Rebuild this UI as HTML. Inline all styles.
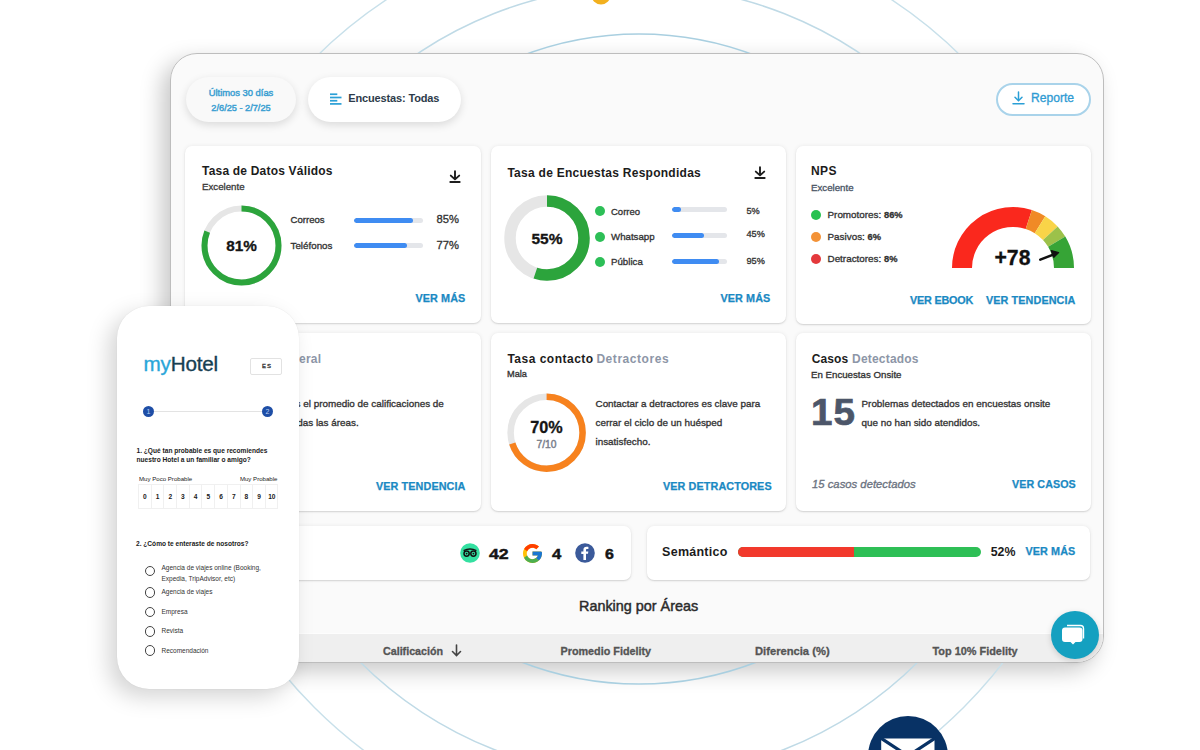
<!DOCTYPE html>
<html><head><meta charset="utf-8">
<style>
html,body{margin:0;padding:0;}
body{width:1200px;height:750px;overflow:hidden;background:#fff;position:relative;font-family:"Liberation Sans",sans-serif;color:#222;}
.a{position:absolute;}
.t{position:absolute;line-height:1;white-space:nowrap;-webkit-text-stroke:0.32px currentColor;}
.t.m{-webkit-text-stroke:0.45px currentColor;}
.panelsh{left:170px;top:53px;width:934px;height:610px;border-radius:27px;box-shadow:-8px 8px 22px rgba(0,0,0,0.22);}
.panel{left:170px;top:53px;width:934px;height:610px;box-sizing:border-box;border:1px solid #bdbdbd;border-radius:27px;background:#fafafa;}
.clip{left:171px;top:54px;width:932px;height:608px;border-radius:26px;overflow:hidden;}
.card{position:absolute;background:#fff;border-radius:7px;box-shadow:0 1px 1.5px rgba(0,0,0,0.13), 0 0 4px rgba(0,0,0,0.07);}
.t.link{color:#1a89c3;font-weight:700;letter-spacing:0.1px;-webkit-text-stroke:0.25px currentColor;}
.bar{position:absolute;height:5px;border-radius:3px;background:#e4e6ea;overflow:hidden;}
.bar i{position:absolute;left:0;top:0;bottom:0;background:#3f8cf2;border-radius:3px;}
</style></head><body>

<div class="a panelsh"></div>
<!-- background circles -->
<svg class="a" style="left:0;top:0" width="1200" height="750">
  <circle cx="639" cy="383" r="459" fill="none" stroke="#c8e0ea" stroke-width="1.4"/>
  <circle cx="639" cy="381.5" r="395.5" fill="none" stroke="#bfdae6" stroke-width="1.5"/>
  <circle cx="639" cy="359" r="325" fill="none" stroke="#a9cfe0" stroke-width="1.6"/>
  <circle cx="601" cy="-5" r="9.5" fill="#f2b01e"/>
</svg>

<div class="a panel"></div>
<div class="a clip">
  <div class="a" style="left:0;top:579px;width:932px;height:29px;background:#efefef;border-top:1px solid #fdfdfd"></div>
</div>


<!-- header pills -->
<div class="a" style="left:186px;top:77px;width:110px;height:45px;border-radius:23px;background:#f9f9f9;box-shadow:0 3px 8px rgba(0,0,0,0.13)"></div>
<div class="t m" style="left:186px;width:110px;text-align:center;top:88px;font-size:9.4px;color:#3b9fd2">Últimos 30 días</div>
<div class="t m" style="left:186px;width:110px;text-align:center;top:103.5px;font-size:9.2px;color:#3b9fd2">2/6/25 - 2/7/25</div>

<div class="a" style="left:308px;top:77px;width:153px;height:45px;border-radius:23px;background:#fff;box-shadow:0 3px 8px rgba(0,0,0,0.13)"></div>
<svg class="a" style="left:330px;top:93px" width="13" height="12" viewBox="0 0 13 12"><g fill="#2a9fd6"><rect x="0" y="0.4" width="7.3" height="1.7"/><rect x="0" y="3.65" width="11.5" height="1.7"/><rect x="0" y="6.9" width="7.3" height="1.7"/><rect x="0" y="10.05" width="11.5" height="1.7"/></g></svg>
<div style="position:absolute;line-height:1;white-space:nowrap;font-weight:700;left:348.3px;top:93.4px;font-size:11px;letter-spacing:-0.15px;color:#2d3b4a">Encuestas: Todas</div>

<div class="a" style="left:996px;top:83px;width:95px;height:33px;box-sizing:border-box;border-radius:17px;border:2px solid #a9d3ea;background:#fff"></div>
<svg class="a" style="left:1012px;top:91px" width="13" height="14" viewBox="0 0 13 14"><g fill="none" stroke="#2a9fd6" stroke-width="1.5" stroke-linecap="round"><path d="M6.5 1v8.5M3 6.2l3.5 3.5 3.5-3.5M1 12.8h11"/></g></svg>
<div class="t" style="left:1031px;top:91.5px;font-size:12.1px;color:#2f9bd3">Reporte</div>

<!-- row 1 cards -->
<div class="card" style="left:185px;top:145.5px;width:296px;height:177px"></div>
<div class="card" style="left:490.5px;top:145.5px;width:295.5px;height:177px"></div>
<div class="card" style="left:795.5px;top:145.5px;width:295.3px;height:178px"></div>

<!-- card 1 -->
<div style="position:absolute;line-height:1;white-space:nowrap;font-size:12px;font-weight:700;-webkit-text-stroke:0;left:202px;top:164.7px;letter-spacing:0.2px;color:#1c1c1c">Tasa de Datos Válidos</div>
<div class="t" style="left:202px;top:182px;font-size:9.7px;color:#3a3a3a">Excelente</div>
<svg class="a" style="left:448.3px;top:170px" width="14" height="14" viewBox="0 0 14 14"><g fill="none" stroke="#1e1e1e" stroke-width="1.9" stroke-linecap="round" stroke-linejoin="round"><path d="M7 1.2V9.2M2.8 5.6L7 9.4 11.2 5.6M2.3 12H11.7"/></g></svg>
<svg class="a" style="left:201px;top:205px" width="81" height="81" viewBox="0 0 81 81">
  <circle cx="40.5" cy="40.5" r="37" fill="none" stroke="#e6e6e6" stroke-width="6"/>
  <circle cx="40.5" cy="40.5" r="37" fill="none" stroke="#2ca43c" stroke-width="6" stroke-dasharray="188.3 232.5" transform="rotate(-90 40.5 40.5)"/>
</svg>
<div class="t" style="left:201px;width:81px;text-align:center;top:237.5px;font-size:15.3px;font-weight:700;color:#151515">81%</div>
<div class="t" style="left:290.5px;top:215px;font-size:9.6px;color:#333">Correos</div>
<div class="t" style="left:290.5px;top:240.5px;font-size:9.8px;color:#333">Teléfonos</div>
<div class="bar" style="left:353.5px;top:217.5px;width:69px"><i style="width:59px"></i></div>
<div class="bar" style="left:353.5px;top:242.5px;width:69px"><i style="width:53px"></i></div>
<div class="t" style="left:400px;width:59px;text-align:right;top:214px;font-size:11.2px;color:#333">85%</div>
<div class="t" style="left:400px;width:59px;text-align:right;top:239.5px;font-size:11.2px;color:#333">77%</div>
<div class="t link" style="left:415.5px;top:292.5px;font-size:10.8px">VER MÁS</div>

<!-- card 2 -->
<div style="position:absolute;line-height:1;white-space:nowrap;font-size:12px;font-weight:700;-webkit-text-stroke:0;left:507.4px;top:167.3px;letter-spacing:0.27px;color:#1c1c1c">Tasa de Encuestas Respondidas</div>
<svg class="a" style="left:753.2px;top:166px" width="14" height="14" viewBox="0 0 14 14"><g fill="none" stroke="#1e1e1e" stroke-width="1.9" stroke-linecap="round" stroke-linejoin="round"><path d="M7 1.2V9.2M2.8 5.6L7 9.4 11.2 5.6M2.3 12H11.7"/></g></svg>
<svg class="a" style="left:504px;top:195px" width="86" height="86" viewBox="0 0 86 86">
  <circle cx="43" cy="43" r="37" fill="none" stroke="#e6e6e6" stroke-width="11.5"/>
  <circle cx="43" cy="43" r="37" fill="none" stroke="#2ca43c" stroke-width="11.5" stroke-dasharray="127.9 232.5" transform="rotate(-90 43 43)"/>
</svg>
<div class="t" style="left:504px;width:86px;text-align:center;top:230.5px;font-size:15.5px;font-weight:700;color:#151515">55%</div>
<div class="a" style="left:595px;top:206px;width:10px;height:10px;border-radius:50%;background:#2dbf57"></div>
<div class="a" style="left:595px;top:232px;width:10px;height:10px;border-radius:50%;background:#2dbf57"></div>
<div class="a" style="left:595px;top:257px;width:10px;height:10px;border-radius:50%;background:#2dbf57"></div>
<div class="t" style="left:611px;top:206.5px;font-size:9.5px;color:#333">Correo</div>
<div class="t" style="left:611px;top:232px;font-size:9.7px;color:#333">Whatsapp</div>
<div class="t" style="left:611px;top:257px;font-size:9.7px;color:#333">Pública</div>
<div class="bar" style="left:672px;top:207.3px;width:55px"><i style="width:9px"></i></div>
<div class="bar" style="left:672px;top:233.2px;width:55px"><i style="width:32px"></i></div>
<div class="bar" style="left:672px;top:259px;width:55px"><i style="width:47px"></i></div>
<div class="t" style="left:746.5px;top:206.5px;font-size:9.2px;color:#333">5%</div>
<div class="t" style="left:746.5px;top:230px;font-size:9.2px;color:#333">45%</div>
<div class="t" style="left:746.5px;top:257px;font-size:9.2px;color:#333">95%</div>
<div class="t link" style="left:720.5px;top:292.5px;font-size:10.8px">VER MÁS</div>

<!-- card 3 NPS -->
<div style="position:absolute;line-height:1;white-space:nowrap;font-size:12px;font-weight:700;-webkit-text-stroke:0;left:811px;top:165.2px;letter-spacing:0.4px;color:#1c1c1c">NPS</div>
<div class="t" style="left:811px;top:183px;font-size:9.7px;color:#4a5566">Excelente</div>
<div class="a" style="left:811px;top:210px;width:10px;height:10px;border-radius:50%;background:#27c150"></div>
<div class="a" style="left:811px;top:232px;width:10px;height:10px;border-radius:50%;background:#f39237"></div>
<div class="a" style="left:811px;top:254px;width:10px;height:10px;border-radius:50%;background:#e4393c"></div>
<div class="t" style="left:827.5px;top:210px;font-size:9.9px;color:#333">Promotores: <b style="font-size:9.3px">86%</b></div>
<div class="t" style="left:827.5px;top:232px;font-size:9.9px;color:#333">Pasivos: <b style="font-size:9.3px">6%</b></div>
<div class="t" style="left:827.5px;top:254px;font-size:9.9px;color:#333">Detractores: <b style="font-size:9.3px">8%</b></div>
<svg class="a" style="left:951px;top:206px" width="125" height="63" viewBox="0 0 125 63">
  <g transform="translate(62,62)" fill="none" stroke-width="20">
    <path d="M-51 0 A51 51 0 0 1 15.8 -48.5" stroke="#fa281d"/>
    <path d="M15.8 -48.5 A51 51 0 0 1 27 -43.3" stroke="#f08a26"/>
    <path d="M27 -43.3 A51 51 0 0 1 37.3 -34.8" stroke="#f9d448"/>
    <path d="M37.3 -34.8 A51 51 0 0 1 43.7 -26.3" stroke="#9cc14a"/>
    <path d="M43.7 -26.3 A51 51 0 0 1 51 0" stroke="#36a436"/>
  </g>
</svg>
<div class="t" style="left:994.5px;top:246.5px;font-size:21.2px;font-weight:700;color:#111">+78</div>
<svg class="a" style="left:1030px;top:240px" width="40" height="30" viewBox="1030 240 40 30"><path d="M1040.3 259.6L1054 254.4" stroke="#111" stroke-width="2.6" stroke-linecap="round"/><path d="M1058.6 252.5L1051.2 250.6 1053.8 257.4z" fill="#111" stroke="#111" stroke-width="1.2" stroke-linejoin="round"/></svg>
<div class="t link" style="left:910px;top:294.5px;font-size:10.8px;letter-spacing:-0.2px">VER EBOOK</div>
<div class="t link" style="left:986px;top:294.5px;font-size:10.8px">VER TENDENCIA</div>


<!-- row 2 cards -->
<div class="card" style="left:185px;top:333px;width:295.5px;height:178px"></div>
<div class="card" style="left:491px;top:333px;width:294.5px;height:178px"></div>
<div class="card" style="left:795.5px;top:333px;width:295px;height:178px"></div>

<!-- card 4 (mostly hidden) -->
<div style="position:absolute;line-height:1;white-space:nowrap;font-size:12px;font-weight:700;-webkit-text-stroke:0;left:202px;top:352.8px;letter-spacing:0.19px;color:#1c1c1c">Calificación <span style="color:#8d96a7">General</span></div>
<div class="t" style="left:202px;top:370px;font-size:9.7px;color:#333">Excelente</div>
<div class="t" style="left:289px;top:398.5px;font-size:9.9px;color:#333">Es el promedio de calificaciones de</div>
<div class="t" style="left:289px;top:418px;font-size:9.9px;color:#333">todas las áreas.</div>
<div class="t link" style="left:376px;top:481px;font-size:10.8px">VER TENDENCIA</div>

<!-- card 5 -->
<div style="position:absolute;line-height:1;white-space:nowrap;font-size:12px;font-weight:700;-webkit-text-stroke:0;left:507.4px;top:353.2px;letter-spacing:0.5px;color:#1c1c1c">Tasa contacto</div><div style="position:absolute;line-height:1;white-space:nowrap;font-size:12px;font-weight:700;-webkit-text-stroke:0;left:596.4px;top:353.2px;letter-spacing:0.55px;color:#8d96a7">Detractores</div>
<div class="t" style="left:507px;top:370px;font-size:9.2px;color:#333">Mala</div>
<svg class="a" style="left:506px;top:392px" width="81" height="81" viewBox="0 0 81 81">
  <circle cx="40.6" cy="40.7" r="36" fill="none" stroke="#e6e6e6" stroke-width="6.5"/>
  <circle cx="40.6" cy="40.7" r="36" fill="none" stroke="#f7821e" stroke-width="6.5" stroke-dasharray="158.3 226.2" transform="rotate(-90 40.6 40.7)"/>
</svg>
<div class="t" style="left:506px;width:81px;text-align:center;top:419px;font-size:16.2px;font-weight:700;color:#151515">70%</div>
<div class="t" style="left:506px;width:81px;text-align:center;top:439.5px;font-size:10.3px;color:#7b818d;-webkit-text-stroke:0.45px currentColor">7/10</div>
<div class="t" style="left:595.5px;top:398.5px;font-size:9.9px;color:#333">Contactar a detractores es clave para</div>
<div class="t" style="left:595.5px;top:418px;font-size:9.9px;color:#333">cerrar el ciclo de un huésped</div>
<div class="t" style="left:595.5px;top:437px;font-size:9.9px;color:#333">insatisfecho.</div>
<div class="t link" style="left:663px;top:481px;font-size:10.8px">VER DETRACTORES</div>

<!-- card 6 -->
<div style="position:absolute;line-height:1;white-space:nowrap;font-size:12px;font-weight:700;-webkit-text-stroke:0;left:811.7px;top:352.7px;letter-spacing:0.1px;color:#1c1c1c">Casos</div><div style="position:absolute;line-height:1;white-space:nowrap;font-size:12px;font-weight:700;-webkit-text-stroke:0;left:852.1px;top:352.7px;letter-spacing:0.19px;color:#8d96a7">Detectados</div>
<div class="t" style="left:811px;top:370px;font-size:9.7px;color:#333">En Encuestas Onsite</div>
<div class="t" style="left:810.5px;top:395px;font-size:36px;font-weight:700;color:#4c5669;letter-spacing:1px;transform:scaleX(1.07);transform-origin:0 0;-webkit-text-stroke:0.7px #4c5669">15</div>
<div class="t" style="left:861.5px;top:398.5px;font-size:9.9px;color:#333">Problemas detectados en encuestas onsite</div>
<div class="t" style="left:861.5px;top:418px;font-size:9.9px;color:#333">que no han sido atendidos.</div>
<div class="t" style="left:812px;top:478.5px;font-size:11.3px;font-style:italic;color:#6b7280">15 casos detectados</div>
<div class="t link" style="left:1012px;top:479px;font-size:10.7px">VER CASOS</div>

<!-- row 3 -->
<div class="card" style="left:185px;top:526px;width:445.8px;height:54px"></div>
<div class="card" style="left:646.8px;top:526px;width:443.6px;height:54px"></div>
<svg class="a" style="left:460px;top:543px" width="20" height="20" viewBox="0 0 20 20">
  <circle cx="10" cy="10" r="9.8" fill="#34e0a1"/>
  <g fill="none" stroke="#111" stroke-width="1.5"><circle cx="6.6" cy="10.6" r="2.6"/><circle cx="13.4" cy="10.6" r="2.6"/><path d="M3.6 7.6 Q10 4.6 16.4 7.6"/></g>
  <circle cx="6.6" cy="10.6" r="0.9" fill="#111"/><circle cx="13.4" cy="10.6" r="0.9" fill="#111"/>
</svg>
<div class="t" style="left:489.2px;top:546.5px;font-size:14.5px;font-weight:700;color:#151515;transform:scaleX(1.22);transform-origin:0 0;-webkit-text-stroke:0.45px #151515">42</div>
<svg class="a" style="left:523.3px;top:543.8px" width="19" height="19" viewBox="4 4 40 40">
  <path fill="#FFC107" d="M43.6 20.1H42V20H24v8h11.3C33.7 32.7 29.2 36 24 36c-6.6 0-12-5.4-12-12s5.4-12 12-12c3.1 0 5.8 1.2 7.9 3.1l5.7-5.7C34 6.1 29.3 4 24 4 13 4 4 13 4 24s9 20 20 20 20-9 20-20c0-1.3-.1-2.6-.4-3.9z"/>
  <path fill="#FF3D00" d="M6.3 14.7l6.6 4.8C14.7 15.1 19 12 24 12c3.1 0 5.8 1.2 7.9 3.1l5.7-5.7C34 6.1 29.3 4 24 4 16.3 4 9.7 8.3 6.3 14.7z"/>
  <path fill="#4CAF50" d="M24 44c5.2 0 9.9-2 13.4-5.2l-6.2-5.2C29.2 35.1 26.7 36 24 36c-5.2 0-9.6-3.3-11.3-8l-6.5 5C9.5 39.6 16.2 44 24 44z"/>
  <path fill="#1976D2" d="M43.6 20.1H42V20H24v8h11.3c-.8 2.2-2.2 4.2-4.1 5.6l6.2 5.2C37 39.2 44 34 44 24c0-1.3-.1-2.6-.4-3.9z"/>
</svg>
<div class="t" style="left:552.2px;top:546.5px;font-size:14.5px;font-weight:700;color:#151515;transform:scaleX(1.15);transform-origin:0 0;-webkit-text-stroke:0.45px #151515">4</div>
<svg class="a" style="left:575px;top:543px" width="20" height="20" viewBox="0 0 20 20">
  <circle cx="10" cy="10" r="9.8" fill="#3b5a9a"/>
  <path d="M11 17V10.8h2l.3-2.3H11V7.1c0-.7.2-1.1 1.1-1.1h1.3V3.9c-.2 0-1-.1-1.9-.1-1.9 0-3.1 1.1-3.1 3.2v1.6H6.3v2.3h2.1V17z" fill="#fff"/>
</svg>
<div class="t" style="left:604.5px;top:546.5px;font-size:14.5px;font-weight:700;color:#151515;transform:scaleX(1.1);transform-origin:0 0;-webkit-text-stroke:0.45px #151515">6</div>

<div style="position:absolute;line-height:1;white-space:nowrap;font-weight:700;-webkit-text-stroke:0;left:662.1px;top:545.5px;font-size:12.5px;letter-spacing:0.25px;color:#1c1c1c">Semántico</div>
<div class="a" style="left:737.5px;top:547px;width:243px;height:10px;border-radius:5px;overflow:hidden;background:#2ebf56"><div class="a" style="left:0;top:0;width:116.5px;height:10px;background:#f2392c"></div></div>
<div style="position:absolute;line-height:1;white-space:nowrap;font-weight:700;-webkit-text-stroke:0;left:990.7px;top:545.7px;font-size:12.4px;color:#1c1c1c">52%</div>
<div class="t link" style="left:1025.5px;top:546.1px;font-size:10.8px">VER MÁS</div>

<!-- ranking -->
<div class="t m" style="left:579px;top:599px;font-size:14.4px;color:#2b2b2b">Ranking por Áreas</div>
<div class="t" style="left:383px;top:645.5px;font-size:10.7px;font-weight:700;color:#555">Calificación</div>
<svg class="a" style="left:451px;top:644px" width="11" height="13" viewBox="0 0 11 13"><path d="M5.5 1v10.5M1.5 7.5l4 4 4-4" fill="none" stroke="#444" stroke-width="1.6" stroke-linecap="round"/></svg>
<div class="t" style="left:560.5px;top:645.5px;font-size:10.8px;font-weight:700;color:#555">Promedio Fidelity</div>
<div class="t" style="left:755px;top:645.5px;font-size:11.2px;font-weight:700;color:#555">Diferencia (%)</div>
<div class="t" style="left:932.5px;top:645.5px;font-size:10.9px;font-weight:700;color:#555">Top 10% Fidelity</div>


<!-- phone -->
<div class="a" style="left:117.3px;top:306px;width:182px;height:383.3px;border-radius:32px;background:#fff;box-shadow:-8px 8px 22px rgba(0,0,0,0.17), 0 0 1px rgba(0,0,0,0.12)"></div>
<div class="t" style="left:143.5px;top:354px;font-size:20.7px;color:#173f52;letter-spacing:-0.2px;-webkit-text-stroke:0.35px currentColor"><span style="color:#29a6d9">my</span>Hotel</div>
<div class="a" style="left:250px;top:358px;width:32px;height:17px;box-sizing:border-box;border:1px solid #e2e2e2;border-radius:2px"></div>
<div class="t" style="left:251px;width:32px;text-align:center;top:363px;font-size:6px;letter-spacing:1px;color:#333;-webkit-text-stroke:0.3px #333">ES</div>
<div class="a" style="left:154px;top:410.5px;width:108px;height:1px;background:#e3e3e3"></div>
<div class="a" style="left:143px;top:405.5px;width:11px;height:11px;border-radius:50%;background:#1e4ea6"></div>
<div class="a" style="left:262px;top:405.5px;width:11px;height:11px;border-radius:50%;background:#1e4ea6"></div>
<div class="t" style="left:143px;width:11px;text-align:center;top:407.5px;font-size:7px;color:#bcd0f5;-webkit-text-stroke:0">1</div>
<div class="t" style="left:262px;width:11px;text-align:center;top:407.5px;font-size:7px;color:#bcd0f5;-webkit-text-stroke:0">2</div>
<div class="t" style="left:136.5px;top:446px;font-size:6.6px;font-weight:700;color:#1a1a1a;line-height:9px;-webkit-text-stroke:0">1. ¿Qué tan probable es que recomiendes<br>nuestro Hotel a un familiar o amigo?</div>
<div class="t" style="left:139px;top:475.5px;font-size:6.1px;color:#222;-webkit-text-stroke:0">Muy Poco Probable</div>
<div class="t" style="left:230px;width:47.5px;text-align:right;top:475.5px;font-size:6.1px;color:#222;-webkit-text-stroke:0">Muy Probable</div>
<div class="a" style="left:138px;top:484px;width:140px;height:24.5px;box-sizing:border-box;border:1px solid #f0f0f0;overflow:hidden"><div style="position:absolute;left:0.0px;top:0;width:12.7px;height:24.5px;box-sizing:border-box;border-right:1px solid #f0f0f0;font-size:6.6px;line-height:24.5px;text-align:center;color:#1a1a1a;font-weight:700">0</div><div style="position:absolute;left:12.7px;top:0;width:12.7px;height:24.5px;box-sizing:border-box;border-right:1px solid #f0f0f0;font-size:6.6px;line-height:24.5px;text-align:center;color:#1a1a1a;font-weight:700">1</div><div style="position:absolute;left:25.4px;top:0;width:12.7px;height:24.5px;box-sizing:border-box;border-right:1px solid #f0f0f0;font-size:6.6px;line-height:24.5px;text-align:center;color:#1a1a1a;font-weight:700">2</div><div style="position:absolute;left:38.1px;top:0;width:12.7px;height:24.5px;box-sizing:border-box;border-right:1px solid #f0f0f0;font-size:6.6px;line-height:24.5px;text-align:center;color:#1a1a1a;font-weight:700">3</div><div style="position:absolute;left:50.8px;top:0;width:12.7px;height:24.5px;box-sizing:border-box;border-right:1px solid #f0f0f0;font-size:6.6px;line-height:24.5px;text-align:center;color:#1a1a1a;font-weight:700">4</div><div style="position:absolute;left:63.5px;top:0;width:12.7px;height:24.5px;box-sizing:border-box;border-right:1px solid #f0f0f0;font-size:6.6px;line-height:24.5px;text-align:center;color:#1a1a1a;font-weight:700">5</div><div style="position:absolute;left:76.2px;top:0;width:12.7px;height:24.5px;box-sizing:border-box;border-right:1px solid #f0f0f0;font-size:6.6px;line-height:24.5px;text-align:center;color:#1a1a1a;font-weight:700">6</div><div style="position:absolute;left:88.9px;top:0;width:12.7px;height:24.5px;box-sizing:border-box;border-right:1px solid #f0f0f0;font-size:6.6px;line-height:24.5px;text-align:center;color:#1a1a1a;font-weight:700">7</div><div style="position:absolute;left:101.6px;top:0;width:12.7px;height:24.5px;box-sizing:border-box;border-right:1px solid #f0f0f0;font-size:6.6px;line-height:24.5px;text-align:center;color:#1a1a1a;font-weight:700">8</div><div style="position:absolute;left:114.3px;top:0;width:12.7px;height:24.5px;box-sizing:border-box;border-right:1px solid #f0f0f0;font-size:6.6px;line-height:24.5px;text-align:center;color:#1a1a1a;font-weight:700">9</div><div style="position:absolute;left:127.0px;top:0;width:12.7px;height:24.5px;box-sizing:border-box;border-right:1px solid #f0f0f0;font-size:6.6px;line-height:24.5px;text-align:center;color:#1a1a1a;font-weight:700">10</div></div>
<div class="t" style="left:136px;top:541px;font-size:6.6px;font-weight:700;color:#1a1a1a;-webkit-text-stroke:0">2. ¿Cómo te enteraste de nosotros?</div>
<div class="a" style="left:144.5px;top:565.6px;width:10.5px;height:10.5px;box-sizing:border-box;border:1px solid #444;border-radius:50%"></div>
<div class="a" style="left:144.5px;top:587.0px;width:10.5px;height:10.5px;box-sizing:border-box;border:1px solid #444;border-radius:50%"></div>
<div class="a" style="left:144.5px;top:606.7px;width:10.5px;height:10.5px;box-sizing:border-box;border:1px solid #444;border-radius:50%"></div>
<div class="a" style="left:144.5px;top:626.0px;width:10.5px;height:10.5px;box-sizing:border-box;border:1px solid #444;border-radius:50%"></div>
<div class="a" style="left:144.5px;top:645.4px;width:10.5px;height:10.5px;box-sizing:border-box;border:1px solid #444;border-radius:50%"></div>

<div class="t" style="left:161.5px;top:561.5px;font-size:6.5px;color:#333;line-height:11.4px;-webkit-text-stroke:0">Agencia de viajes online (Booking,<br>Expedia, TripAdvisor, etc)</div>
<div class="t" style="left:161.5px;top:589px;font-size:6.5px;color:#333;-webkit-text-stroke:0">Agencia de viajes</div>
<div class="t" style="left:161.5px;top:608.5px;font-size:6.5px;color:#333;-webkit-text-stroke:0">Empresa</div>
<div class="t" style="left:161.5px;top:628px;font-size:6.5px;color:#333;-webkit-text-stroke:0">Revista</div>
<div class="t" style="left:161.5px;top:647.5px;font-size:6.5px;color:#333;-webkit-text-stroke:0">Recomendación</div>

<!-- chat -->
<div class="a" style="left:1050.5px;top:610.5px;width:48px;height:48px;border-radius:50%;background:#14a0c0;box-shadow:0 2px 6px rgba(0,0,0,0.15)"></div>
<svg class="a" style="left:1058px;top:618px" width="32" height="32" viewBox="0 0 32 32">
  <path d="M9 7.5h13.5a3 3 0 0 1 3 3v10" fill="none" stroke="#fff" stroke-width="1.4"/>
  <path d="M7 9.5h14.5a3 3 0 0 1 3 3v8.5a3 3 0 0 1-3 3H17.5L15 26.6 12.5 24H7a3 3 0 0 1-3-3v-8.5a3 3 0 0 1 3-3z" fill="#fff"/>
</svg>

<!-- mail -->
<div class="a" style="left:867.5px;top:715.5px;width:80px;height:80px;border-radius:50%;background:#083265"></div>
<svg class="a" style="left:880px;top:737px" width="56" height="14" viewBox="0 0 56 14">
  <path d="M1.2 1.5H54.5V14H1.2z" fill="#fff"/>
  <path d="M0 0.5L28 19 56 0.5" fill="none" stroke="#083265" stroke-width="3.2"/>
</svg>

</body></html>
